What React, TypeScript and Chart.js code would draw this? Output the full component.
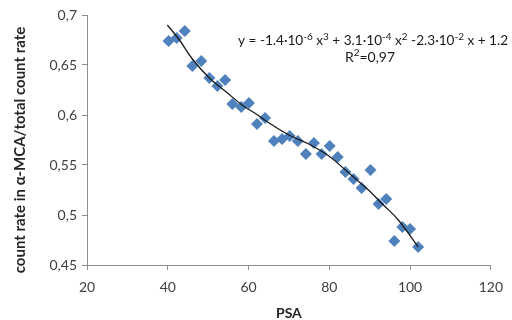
import React, { useEffect, useRef } from "react";
import { Chart, registerables } from "chart.js";

Chart.register(...registerables);

const psa = [40.2, 42.2, 44.2, 46.1, 48.3, 50.3, 52.3, 54.2, 56.0, 58.2, 60.1, 62.1, 64.1, 66.3, 68.3, 70.2, 72.2, 74.2, 76.2, 78.1, 80.1, 82.1, 84.0, 86.0, 88.0, 90.2, 92.2, 94.1, 96.1, 98.1, 100.0, 102.0];
const ratio = [0.674, 0.677, 0.684, 0.649, 0.654, 0.637, 0.629, 0.635, 0.611, 0.608, 0.612, 0.591, 0.597, 0.574, 0.576, 0.579, 0.574, 0.561, 0.572, 0.561, 0.569, 0.558, 0.543, 0.536, 0.527, 0.545, 0.511, 0.516, 0.474, 0.488, 0.486, 0.468];

const trendX = [39.9, 42.9, 46.1, 50.3, 54.5, 58.4, 61.9, 65.1, 70.0, 74.9, 79.9, 84.0, 86.0, 89.7, 93.4, 97.1, 102.0];
const trendY = [0.690, 0.675, 0.656, 0.637, 0.623, 0.610, 0.601, 0.592, 0.580, 0.571, 0.559, 0.545, 0.538, 0.525, 0.510, 0.495, 0.468];

const yTickValues = [0.45, 0.5, 0.55, 0.6, 0.65, 0.7];
const yTickLabels = ["0,45", "0,5", "0,55", "0,6", "0,65", "0,7"];
const xTickLabels = ["20", "40", "60", "80", "100", "120"];

const xTitle = "PSA";
const yTitle = "count rate in \u03b1-MCA/total count rate";

// equation segments: [text, isSuperscript]
const equation: [string, boolean][] = [
  ["y = -1.4\u00b710", false], ["-6", true], [" x", false], ["3", true],
  [" + 3.1\u00b710", false], ["-4", true], [" x", false], ["2", true],
  [" -2.3\u00b710", false], ["-2", true], [" x + 1.2", false],
];
const rSquared: [string, boolean][] = [["R", false], ["2", true], ["=0,97", false]];

const FONT = "Lato, 'Open Sans', sans-serif";

function drawRich(ctx: CanvasRenderingContext2D, segs: [string, boolean][], x: number, y: number, size: number, align: "left" | "center", fitWidth?: number) {
  const measure = (sz: number) => {
    let total = 0;
    for (const [t, s] of segs) {
      ctx.font = `${s ? Math.round(sz * 0.7) : sz}px ${FONT}`;
      total += ctx.measureText(t).width;
    }
    return total;
  };
  let sz = size;
  let total = measure(sz);
  if (fitWidth && total > fitWidth) {
    sz = size * fitWidth / total;
    total = measure(sz);
  }
  let cx = align === "center" ? x - total / 2 : x;
  ctx.textBaseline = "alphabetic";
  ctx.textAlign = "left";
  for (const [t, s] of segs) {
    ctx.font = `${s ? Math.round(sz * 0.7) : sz}px ${FONT}`;
    ctx.fillText(t, cx, s ? y - sz * 0.4 : y);
    cx += ctx.measureText(t).width;
  }
}

const textPlugin = {
  id: "extraText",
  afterDraw(chart: any) {
    const ctx = chart.ctx as CanvasRenderingContext2D;
    ctx.save();
    ctx.fillStyle = "#1a1a1a";
    drawRich(ctx, equation, 238, 45, 14, "left", 269);
    drawRich(ctx, rSquared, 370, 62, 14, "center");
    // axis titles
    ctx.fillStyle = "#262626";
    ctx.font = `bold 14px ${FONT}`;
    ctx.textAlign = "center";
    ctx.textBaseline = "middle";
    ctx.fillText(xTitle, (chart.chartArea.left + chart.chartArea.right) / 2, 313);
    ctx.translate(20, 150);
    ctx.rotate(-Math.PI / 2);
    ctx.font = `bold 15px ${FONT}`;
    ctx.fillText(yTitle, 0, 0);
    ctx.restore();
  },
};

export default function App() {
  const ref = useRef<HTMLCanvasElement | null>(null);
  useEffect(() => {
    if (!ref.current) return;
    const axisColor = "#8c8c8c";
    const chart = new Chart(ref.current, {
      type: "scatter",
      data: {
        datasets: [
          {
            label: "data",
            data: psa.map((x, i) => ({ x, y: ratio[i] })),
            pointStyle: "rectRot",
            pointRadius: 6,
            backgroundColor: "#4F81BD",
            borderColor: "#4F81BD",
            borderWidth: 0,
            order: 2,
          },
          {
            label: "trend",
            type: "line",
            data: trendX.map((x, i) => ({ x, y: trendY[i] })),
            borderColor: "#1a1a1a",
            borderWidth: 1.3,
            pointRadius: 0,
            tension: 0.4,
            fill: false,
            order: 1,
          } as any,
        ],
      },
      options: {
        animation: false,
        responsive: false,
        events: [],
        layout: { padding: { left: 0, right: 19, top: 15, bottom: 0 } },
        plugins: { legend: { display: false }, tooltip: { enabled: false } },
        scales: {
          x: {
            type: "linear",
            min: 20,
            max: 120,
            ticks: {
              stepSize: 20,
              color: "#404040",
              font: { family: FONT, size: 14 },
              padding: 9,
              callback: (v: any) => {
                const i = [20, 40, 60, 80, 100, 120].indexOf(Number(v));
                return i >= 0 ? xTickLabels[i] : "";
              },
            },
            grid: { drawOnChartArea: false, drawTicks: true, tickLength: 5, color: axisColor },
            border: { color: axisColor, width: 1 },
            title: { display: false },
            afterFit: (s: any) => { s.height = 55; },
          },
          y: {
            type: "linear",
            min: 0.45,
            max: 0.7,
            afterBuildTicks: (s: any) => { s.ticks = yTickValues.map((v) => ({ value: v })); },
            ticks: {
              color: "#404040",
              font: { family: FONT, size: 14 },
              padding: 5,
              callback: (v: any) => {
                const i = yTickValues.findIndex((t) => Math.abs(t - Number(v)) < 1e-6);
                return i >= 0 ? yTickLabels[i] : "";
              },
            },
            grid: { drawOnChartArea: false, drawTicks: true, tickLength: 5, color: axisColor },
            border: { color: axisColor, width: 1 },
            title: { display: false },
            afterFit: (s: any) => { s.width = 87; },
          },
        },
      },
      plugins: [textPlugin],
    });
    return () => chart.destroy();
  }, []);
  return (
    <div style={{ position: "fixed", left: 0, top: 0, width: 512, height: 320, background: "#fff" }}>
      <canvas ref={ref} width={512} height={320} style={{ display: "block", width: 512, height: 320 }} />
    </div>
  );
}
